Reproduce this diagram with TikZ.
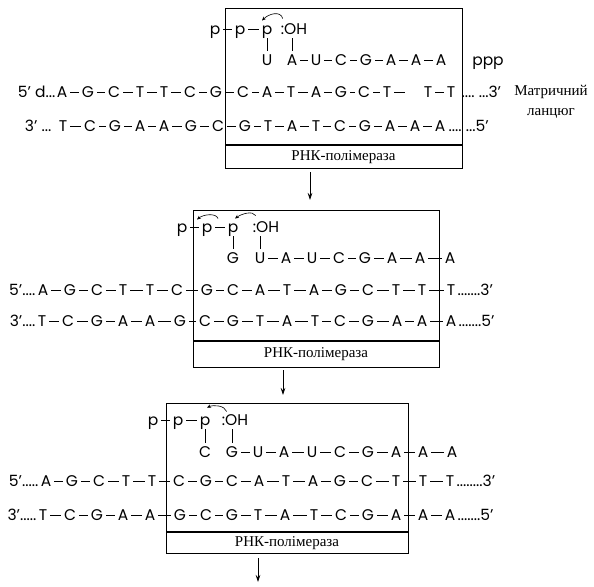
\documentclass[tikz,border=0pt]{standalone}
\usepackage{fontspec}
\setmainfont{Liberation Serif}
\newfontfamily\basefont{Poppins}
\usetikzlibrary{positioning,arrows.meta}

\tikzset{
  nt/.style={inner sep=0pt, text height=10.5pt, text depth=0pt, font=\basefont\fontsize{15.5}{16}\selectfont},
  bond/.style={line width=0.6pt, shorten >=3pt, shorten <=3pt},
  vbar/.style={line width=0.6pt, shorten >=4pt, shorten <=4pt},
  polbox/.style={line width=0.9pt},
  sepline/.style={line width=1.8pt},
  pol/.style={font=\fontsize{15}{20}\selectfont, inner sep=0pt},
  curv/.style={line width=0.6pt, -{Stealth[length=4pt,width=3.5pt]}},
  stagearrow/.style={line width=0.7pt, -{Stealth[length=7pt,width=4.5pt]}}
}

\begin{document}
\begin{tikzpicture}[x=1pt,y=-1pt]
  \useasboundingbox (0,0) rectangle (594,586);

  %% Stage 1
  \draw[polbox] (225,8) rectangle (462,168);
  \draw[sepline] (225,145) -- (462,145);
  \node[pol] (a-pol) at (343.5,157) {РНК-полімераза};
  \foreach \b/\x [count=\i] in {p/215,p/240,p/267} \node[nt] (a-p-\i) at (\x,29) {\b};
  \node[nt] (a-oh) at (294,29) {:OH};
  \node[nt] (a-n) at (267,60) {U};
  \foreach \b/\x [count=\i] in {A/292,U/316,C/341,G/366,A/391,A/416,A/441} \node[nt] (a-r-\i) at (\x,60) {\b};
  \node[nt] (a-ppp) at (488,60) {ppp};
  \foreach \b/\x [count=\i] in {A/62,G/88,C/114,T/140,T/164,C/190,G/216,C/243,A/267,T/291,A/316,G/341,C/364,T/387,T/428,T/451}
    \node[nt] (a-t-\i) at (\x,92) {\b};
  \foreach \b/\x [count=\i] in {T/63,C/90,G/115,A/140,A/164,G/191,C/218,G/245,T/268,A/292,T/316,C/340,G/365,A/390,A/415,A/440}
    \node[nt] (a-m-\i) at (\x,126) {\b};
  \node[nt, left=1pt of a-t-1] (a-t-pre) {5’ d...};
  \node[nt, right=6pt of a-t-16] (a-t-post) {....\ ...3’};
  \node[nt, left=7pt of a-m-1] (a-m-pre) {3’ ...};
  \node[nt, right=3pt of a-m-16] (a-m-post) {....\ ...5’};
  \node[pol, align=center] (tmpl) at (551,102) {Матричний\\ланцюг};
  \draw[vbar] (a-p-3) -- (a-n);
  \draw[vbar] (a-oh.south -| a-r-1) -- (a-r-1);
  \draw[bond, shorten >=19pt] (a-t-14) -- (a-t-15);
  \draw[curv] ([xshift=2pt,yshift=5pt]a-oh.north west) .. controls +(-2pt,8pt) and +(7pt,7pt) .. ([xshift=-5pt,yshift=3pt]a-p-3.north);

  \coordinate (a-out) at (310,172);
  \coordinate (b-in) at (310,200);
  \draw[stagearrow] (a-out) -- (b-in);

  %% Stage 2
  \draw[polbox] (193,210) rectangle (439,367);
  \draw[sepline] (193,341) -- (439,341);
  \node[pol] (b-pol) at (316,354) {РНК-полімераза};
  \foreach \b/\x [count=\i] in {p/182,p/207,p/233} \node[nt] (b-p-\i) at (\x,227) {\b};
  \node[nt] (b-oh) at (266,227) {:OH};
  \node[nt] (b-n) at (233,258) {G};
  \foreach \b/\x [count=\i] in {U/260,A/286,U/312,C/339,G/365,A/392,A/420,A/450} \node[nt] (b-r-\i) at (\x,258) {\b};
  \foreach \b/\x [count=\i] in {A/43,G/70,C/97,T/123,T/150,C/177,G/207,C/233,A/260,T/287,A/314,G/341,C/368,T/396,T/422,T/451}
    \node[nt] (b-t-\i) at (\x,290) {\b};
  \foreach \b/\x [count=\i] in {T/42,C/68,G/97,A/123,A/150,G/180,C/205,G/233,T/260,A/287,T/315,C/340,G/368,A/397,A/422,A/451}
    \node[nt] (b-m-\i) at (\x,321) {\b};
  \node[nt, left=2pt of b-t-1] (b-t-pre) {5’....};
  \node[nt, right=2pt of b-t-16] (b-t-post) {.......3’};
  \node[nt, left=2pt of b-m-1] (b-m-pre) {3’....};
  \node[nt, right=2pt of b-m-16] (b-m-post) {.......5’};
  \draw[vbar] (b-p-3) -- (b-n);
  \draw[vbar] (b-oh.south -| b-r-1) -- (b-r-1);
  \draw[curv] ([xshift=11pt,yshift=3pt]b-p-2.north) .. controls +(-2pt,6pt) and +(6pt,5pt) .. ([xshift=-10pt,yshift=2pt]b-p-2.north);
  \draw[curv] ([xshift=3pt,yshift=6pt]b-oh.north west) .. controls +(-3pt,5pt) and +(7pt,5pt) .. ([xshift=2pt,yshift=3pt]b-p-3.north);

  \coordinate (b-out) at (283,370);
  \coordinate (c-in) at (283,395);
  \draw[stagearrow] (b-out) -- (c-in);

  %% Stage 3
  \draw[polbox] (166,403) rectangle (408,553);
  \draw[sepline] (166,532) -- (408,532);
  \node[pol] (c-pol) at (287,543) {РНК-полімераза};
  \foreach \b/\x [count=\i] in {p/153,p/178,p/205} \node[nt] (c-p-\i) at (\x,420) {\b};
  \node[nt] (c-oh) at (235,420) {:OH};
  \node[nt] (c-n) at (205,452) {C};
  \foreach \b/\x [count=\i] in {G/232,U/258,A/284,U/312,C/340,G/368,A/396,A/423,A/452} \node[nt] (c-r-\i) at (\x,452) {\b};
  \foreach \b/\x [count=\i] in {A/46,G/72,C/99,T/126,T/152,C/179,G/206,C/232,A/259,T/286,A/313,G/340,C/367,T/396,T/423,T/450}
    \node[nt] (c-t-\i) at (\x,481) {\b};
  \foreach \b/\x [count=\i] in {T/43,C/70,G/97,A/123,A/150,G/180,C/206,G/232,T/258,A/285,T/314,C/341,G/368,A/396,A/423,A/450}
    \node[nt] (c-m-\i) at (\x,515) {\b};
  \node[nt, left=2pt of c-t-1] (c-t-pre) {5’.....};
  \node[nt, right=2pt of c-t-16] (c-t-post) {........3’};
  \node[nt, left=2pt of c-m-1] (c-m-pre) {3’.....};
  \node[nt, right=2pt of c-m-16] (c-m-post) {.......5’};
  \draw[vbar] (c-p-3) -- (c-n);
  \draw[vbar] (c-oh.south -| c-r-1) -- (c-r-1);
  \draw[curv] ([xshift=5pt,yshift=3pt]c-oh.north west) .. controls +(-2pt,6pt) and +(7pt,3pt) .. ([xshift=2pt,yshift=7pt]c-p-3.north);

  \coordinate (c-out) at (258,558);
  \coordinate (d-in) at (258,582);
  \draw[stagearrow] (c-out) -- (d-in);

  %% bonds along each chain (a-t is split round its gap)
  \foreach \s/\m/\n in {a-p/1/3,b-p/1/3,c-p/1/3,a-r/1/7,b-r/1/8,c-r/1/9,a-t/1/14,a-t/15/16,a-m/1/16,b-t/1/16,b-m/1/16,c-t/1/16,c-m/1/16}
    \foreach \i [remember=\i as \j (initially \m)] in {\the\numexpr\m+1\relax,...,\n}
      \draw[bond] (\s-\j) -- (\s-\i);
\end{tikzpicture}
\end{document}
